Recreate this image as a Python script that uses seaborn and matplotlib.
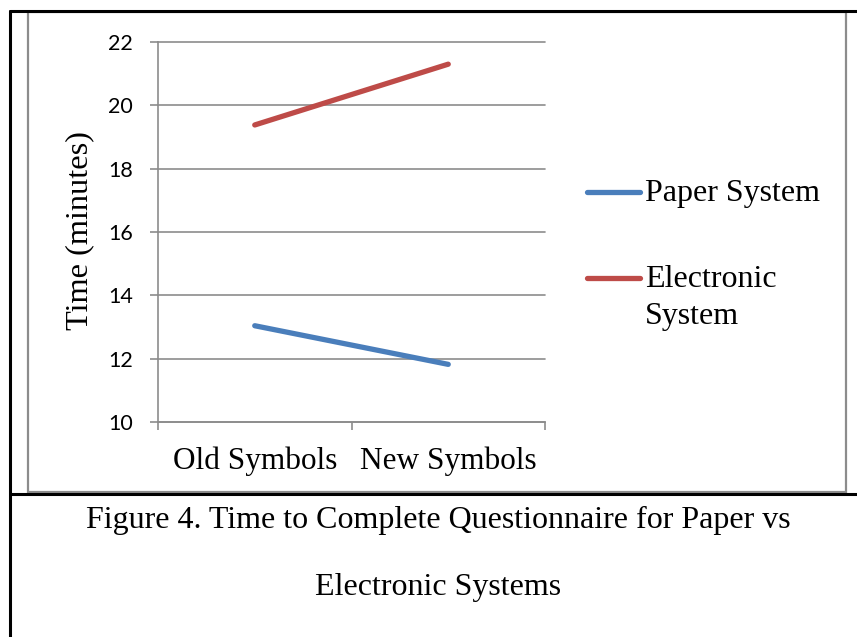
import pandas as pd
import matplotlib.pyplot as plt
import seaborn as sns
from matplotlib.lines import Line2D

# data
symbols = ['Old Symbols', 'New Symbols']
paper_time = [13.04, 11.82]
electronic_time = [19.38, 21.30]
systems = ['Paper System', 'Electronic System']
legend_labels = ['Paper System', 'Electronic\nSystem']
colors = ['#4A7EBB', '#BE4B48']
y_ticks = [10, 12, 14, 16, 18, 20, 22]


def generate_line_chart():
    df = pd.DataFrame({
        'Symbols': symbols * 2,
        'Time': paper_time + electronic_time,
        'System': [systems[0]] * 2 + [systems[1]] * 2,
    })

    sns.set_style("white")
    plt.rcParams['text.color'] = 'black'
    plt.rcParams['axes.labelcolor'] = 'black'
    serif = ['Liberation Serif', 'DejaVu Serif']
    sans = ['Lato', 'DejaVu Sans']
    grey = '#8C8C8C'

    fig = plt.figure(figsize=(8.57, 6.37), dpi=100)
    ax = fig.add_axes([158 / 857, 1 - 422 / 637, 387 / 857, 380 / 637])

    sns.lineplot(data=df, x='Symbols', y='Time', hue='System',
                 palette=colors, linewidth=3.8, legend=False, ax=ax)
    for line in ax.lines:
        line.set_solid_capstyle('round')

    ax.set_xlim(-0.5, 1.5)
    ax.set_ylim(10, 22)
    ax.set_yticks(y_ticks)
    ax.set_yticklabels([str(t) for t in y_ticks], fontfamily=sans, fontsize=15.5)
    ax.set_xticks([0, 1])
    ax.set_xticklabels(symbols, fontfamily=serif, fontsize=22.5)
    ax.set_xticks([-0.5, 0.5, 1.5], minor=True)
    ax.tick_params(axis='x', which='major', bottom=True, length=0, pad=18, labelcolor='black')
    ax.tick_params(axis='x', which='minor', bottom=True, length=6, width=1.2,
                   color=grey, direction='out')
    ax.tick_params(axis='y', left=True, length=6, width=1.2, color=grey,
                   direction='out', pad=12, labelcolor='black')
    ax.set_xlabel('')
    ax.set_ylabel('Time (minutes)', fontfamily=serif, fontsize=23.3, color='black')
    ax.yaxis.label.set_va('center')
    ax.yaxis.set_label_coords(-0.202, 0.505)

    ax.grid(True, axis='y', color=grey, linewidth=1.2)
    ax.grid(False, axis='x')
    ax.set_axisbelow(True)
    for side in ['top', 'right']:
        ax.spines[side].set_visible(False)
    for side in ['left', 'bottom']:
        ax.spines[side].set_color(grey)
        ax.spines[side].set_linewidth(1.2)
    for gl in ax.get_ygridlines():
        gl.set_clip_on(False)

    # legend on the right of the plot
    legend_y = [192, 278]
    for label, color, y in zip(legend_labels, colors, legend_y):
        fy = 1 - y / 637
        fig.add_artist(Line2D([587 / 857, 640 / 857], [fy, fy], color=color,
                              linewidth=3.8, solid_capstyle='round'))
        fig.text(645 / 857, 1 - (y - 13) / 637, label, fontfamily=serif,
                 fontsize=23, va='top', ha='left', linespacing=1.35, color='black')

    # chart frame and surrounding table borders
    fig.add_artist(plt.Rectangle((28 / 857, 1 - 492 / 637), 818 / 857, 480 / 637,
                                 fill=False, edgecolor=grey, linewidth=1.6))
    fig.add_artist(Line2D([10 / 857, 1], [1 - 11 / 637, 1 - 11 / 637], color='black', linewidth=2.2))
    fig.add_artist(Line2D([10 / 857, 1], [1 - 494 / 637, 1 - 494 / 637], color='black', linewidth=2.2))
    fig.add_artist(Line2D([10 / 857, 10 / 857], [0, 1 - 11 / 637], color='black', linewidth=2.2))

    # caption
    fig.text(438 / 857, 1 - 520 / 637,
             'Figure 4. Time to Complete Questionnaire for Paper vs',
             fontfamily=serif, fontsize=23, ha='center', va='center', color='black')
    fig.text(438 / 857, 1 - 588 / 637, 'Electronic Systems',
             fontfamily=serif, fontsize=23, ha='center', va='center', color='black')

    fig.savefig('out.png', dpi=100)
    plt.close(fig)


if __name__ == "__main__":
    generate_line_chart()
